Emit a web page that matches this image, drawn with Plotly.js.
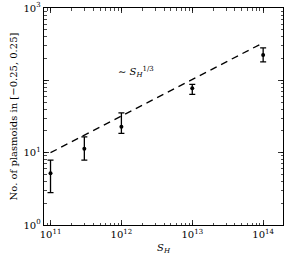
<!DOCTYPE html>
<html>
<head>
<meta charset="utf-8">
<script src="https://cdn.plot.ly/plotly-3.0.1.min.js"></script>
<style>html,body{margin:0;padding:0;background:#fff}#plot{width:292px;height:257px}</style>
</head>
<body>
<div id="plot"></div>
<script>
// Data
const sH = [1e11, 3e11, 1e12, 1e13, 1e14];
const nPlasmoids = [5.2, 11.3, 22.9, 78, 224];
const errPlus = [2.7, 5.2, 12.5, 10, 57];
const errMinus = [2.4, 3.4, 4.4, 14, 44];
const fitX = [1e11, 1e14];
const fitY = [10, 330];
const xTickVals = [1e11, 1e12, 1e13, 1e14];
const xTickText = ['10<sup>11</sup>', '10<sup>12</sup>', '10<sup>13</sup>', '10<sup>14</sup>'];
const yTickVals = [1, 10, 100, 1000];
const yTickText = ['10<sup>0</sup>', '10<sup>1</sup>', '', '10<sup>3</sup>'];
const xTitle = '<i>S</i><sub><i>H</i></sub>';
const yTitle = 'No. of plasmoids in [\u22120.25, 0.25]';
const fitLabel = '\u223C <i>S</i><sub><i>H</i></sub><sup>1/3</sup>';

const font = 'DejaVu Serif, Liberation Serif, serif';

const traces = [
  {
    x: fitX, y: fitY, mode: 'lines', type: 'scatter',
    line: {color: '#000', width: 1.3, dash: '7px,5px'},
    hoverinfo: 'skip', showlegend: false
  },
  {
    x: sH, y: nPlasmoids, mode: 'markers', type: 'scatter',
    marker: {color: '#000', size: 4},
    error_y: {type: 'data', symmetric: false, array: errPlus, arrayminus: errMinus,
              color: '#000', thickness: 1.3, width: 3},
    showlegend: false
  }
];

const axisCommon = {
  type: 'log', showgrid: false, zeroline: false,
  showline: true, linecolor: '#000', linewidth: 1.3, mirror: 'allticks',
  ticks: 'inside', ticklen: 5, tickwidth: 0.8, tickcolor: '#000',
  tickmode: 'array',
  tickfont: {family: font, size: 10, color: '#000'},
  minor: {ticks: 'inside', ticklen: 2.5, tickwidth: 0.7, tickcolor: '#000', showgrid: false, dtick: 'D1'}
};

const layout = {
  width: 292, height: 257,
  margin: {l: 44, r: 9, t: 8, b: 32},
  paper_bgcolor: '#fff', plot_bgcolor: '#fff',
  font: {family: font, color: '#000', size: 10},
  xaxis: Object.assign({}, axisCommon, {
    range: [10.908, 14.28],
    tickvals: xTickVals, ticktext: xTickText,
    title: {text: xTitle, font: {family: font, size: 10}, standoff: 4}
  }),
  yaxis: Object.assign({}, axisCommon, {
    range: [0, 3],
    tickvals: yTickVals, ticktext: yTickText,
    title: {text: yTitle, font: {family: font, size: 10}, standoff: 4}
  }),
  annotations: [{
    x: 12.21, y: 2.12, xref: 'x', yref: 'y', text: fitLabel,
    showarrow: false, font: {family: font, size: 10, color: '#000'}
  }]
};

Plotly.newPlot('plot', traces, layout, {staticPlot: true, displayModeBar: false});
</script>
</body>
</html>
